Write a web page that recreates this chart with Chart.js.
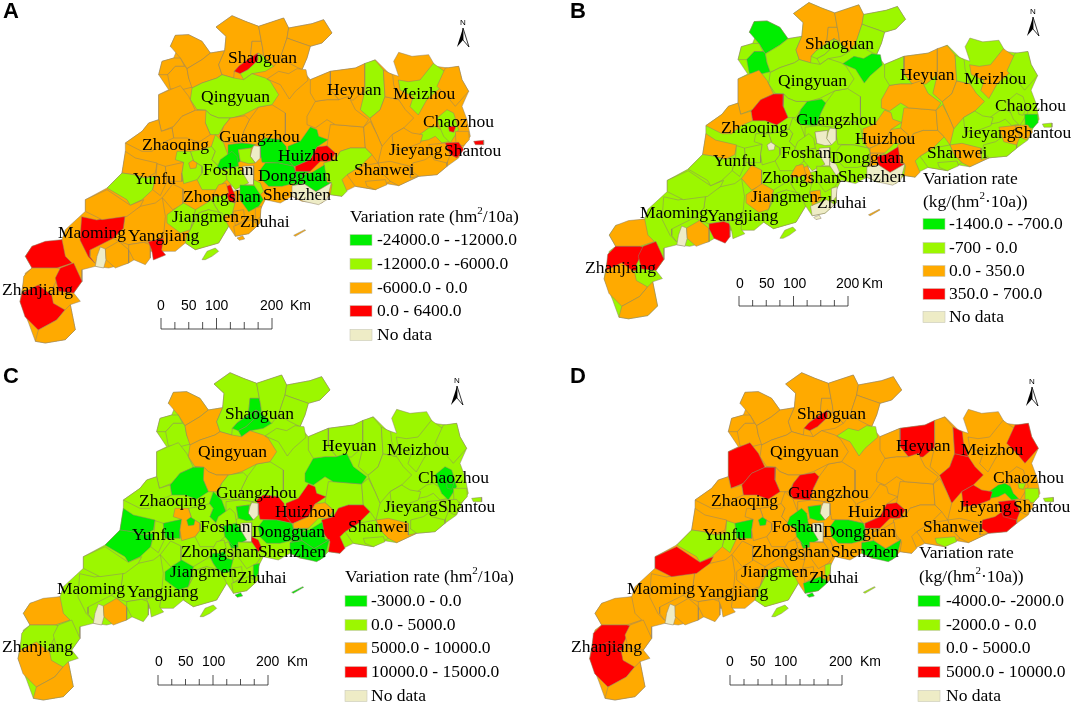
<!DOCTYPE html>
<html>
<head>
<meta charset="utf-8">
<title>Variation rate maps</title>
<script src="https://cdn.jsdelivr.net/npm/chart.js@4/dist/chart.umd.js"></script>
<style>
  html, body { margin: 0; padding: 0; background: #fff; }
  canvas { display: block; }
</style>
</head>
<body>
<canvas id="chart" width="1072" height="704"></canvas>
<script>
// class index: 0 lowest, 1 second, 2 third, 3 highest, 4 no data
const classColors = ['#00ee00', '#9cf700', '#ffaa00', '#ff0000', '#eeecc6'];

const provinceOutline = [520,97,560,95,600,115,625,150,668,143,672,100,642,72,690,38,730,55,770,70,845,45,860,75,930,62,965,50,990,90,960,120,925,130,915,165,900,200,925,230,985,205,1060,195,1120,170,1160,210,1190,220,1175,175,1190,148,1230,160,1280,155,1300,190,1340,195,1370,190,1380,230,1400,265,1380,310,1395,350,1405,400,1385,430,1370,465,1335,490,1305,515,1250,520,1190,548,1140,540,1120,560,1060,550,1030,565,1020,580,985,575,960,600,900,595,870,580,835,600,790,590,775,620,775,660,740,692,700,700,680,670,650,720,580,740,550,720,520,745,440,745,380,780,320,795,280,790,240,800,240,835,215,870,235,895,205,905,220,980,190,1010,130,1020,100,1015,80,960,54,896,60,860,70,810,90,795,70,760,90,730,180,710,190,680,250,625,250,590,315,555,360,510,370,450,370,420,420,385,440,360,470,350,470,275,500,260,470,215,480,175,515,165,525,140,505,130];

const countyShapes = [
  [600,440,630,430,640,445,630,470,650,490,645,495,670,500,675,530,640,560,600,560,585,530,600,510,600,490,575,475,565,445],
  [985,365,1000,365,1085,372,1090,435,1045,435,1015,445,1000,470,985,475,1000,450,975,428,978,410],
  [580,620,630,590,640,610,660,640,620,620,590,630,565,680],
  [875,490,880,505,925,505,900,517,906,542,870,548,880,540],
  [742,350,770,312,810,305,850,330,850,395,835,410,790,405,770,420,760,425,720,420,715,420,725,385],
  [369,636,415,610,460,600,481,584,490,640,484,706,439,716,425,718,380,725,350,715,334,706,364,676],
  [520,97,560,95,600,115,625,150,600,170,555,197,535,165,505,130],
  [470,215,480,175,515,165,535,165,548,190,520,190,497,215],
  [497,215,520,190,548,190,555,197,560,225,572,252,540,260,505,258],
  [555,197,600,170,625,150,668,143,650,185,660,215,645,225,600,240,570,255,560,225],
  [668,143,672,100,642,72,690,38,730,55,770,70,778,115,750,115,745,165,712,188,697,205,695,225,660,215,650,185],
  [750,115,778,115,782,135,785,160,768,150,745,165],
  [697,205,712,188,745,165,768,150,768,172,738,200,715,212],
  [738,200,768,172,768,150,785,160,815,190,790,205,750,212,725,230,715,212],
  [770,70,845,45,860,75,855,105,845,135,835,165,815,190,785,160,782,135,778,115],
  [860,75,930,62,965,50,990,90,960,120,925,130,868,110,855,105],
  [855,105,868,110,925,130,915,165,900,200,870,185,835,165,845,135],
  [795,228,830,205,860,212,885,197,912,200,918,232,880,265,862,288,835,245],
  [570,255,600,240,645,225,660,215,695,225,725,230,750,212,790,225,805,235,830,275,810,305,770,312,725,335,690,345,650,345,625,335,612,322,585,320,565,290],
  [585,320,612,322,625,335,650,345,685,345,665,370,650,395,625,395,610,360],
  [500,262,535,248,560,280,580,322,540,340,515,370,478,385,470,350,470,275],
  [580,322,612,322,610,360,625,395,590,418,555,405,515,405,510,375,515,370,540,340],
  [440,360,470,350,478,385,510,375,515,405,480,420,450,445,420,445,370,420,420,385],
  [370,445,400,465,465,480,460,510,430,525,395,515,360,510],
  [360,510,395,515,430,525,462,520,452,560,420,590,385,607,375,590,315,555],
  [465,482,490,490,495,535,475,578,452,560,462,520],
  [490,490,545,478,540,510,540,535,495,535],
  [525,445,565,445,575,475,600,490,600,510,585,530,545,542,540,510,545,478,520,470],
  [560,480,572,472,585,480,582,495,565,497],
  [640,395,665,420,678,455,650,490,630,470,640,445,628,430],
  [685,345,730,338,742,350,725,385,715,420,665,417,655,398,665,370],
  [678,425,720,420,760,425,748,435,709,440,715,475,690,490,678,455],
  [770,420,790,405,835,410,852,430,858,470,875,490,830,480,780,478,775,450],
  [858,430,895,415,925,372,945,380,950,400,978,410,945,432,925,470,880,490,875,490,858,470],
  [945,432,975,428,1000,450,985,475,955,475,925,505,880,505,880,490,925,470],
  [985,205,1060,195,1089,181,1089,261,1054,291,1010,290,985,260],
  [915,340,940,295,975,290,1010,290,1040,280,1060,320,1100,350,1085,372,1000,365,975,350,940,375,915,365],
  [1089,181,1119,171,1144,201,1149,281,1134,321,1104,346,1075,320,1089,261],
  [925,230,985,205,985,260,1010,290,975,290,940,295,925,270],
  [1134,321,1149,281,1190,290,1210,320,1235,345,1205,375,1170,395,1140,430,1125,395,1104,346],
  [1144,201,1172,215,1175,245,1190,290,1149,281],
  [1189,231,1219,236,1254,231,1294,181,1329,206,1319,251,1274,291,1249,336,1224,311,1234,281,1194,261],
  [1330,195,1370,190,1380,230,1400,265,1360,310,1335,280,1305,250],
  [1252,395,1280,375,1300,370,1335,390,1345,415,1320,420,1300,400,1280,410,1255,415],
  [1335,320,1355,330,1370,380,1345,420,1325,400,1310,365,1305,345],
  [1339,370,1362,370,1355,388,1342,385],
  [1360,385,1400,385,1402,410,1385,428,1362,425],
  [1170,395,1205,375,1230,390,1262,395,1255,420,1215,435,1175,440],
  [1232,480,1270,470,1295,452,1335,460,1335,490,1305,515,1250,520,1230,505],
  [1280,425,1330,420,1345,455,1335,480,1295,470],
  [1330,420,1370,418,1385,440,1365,465,1345,455],
  [1105,355,1125,395,1140,430,1128,480,1110,455,1090,435,1085,372],
  [1128,480,1165,475,1225,490,1225,525,1250,520,1190,548,1165,535,1140,510],
  [1075,490,1128,480,1140,510,1165,535,1120,560,1060,550,1035,515],
  [1090,535,1150,530,1155,545,1120,560,1095,550],
  [1015,445,1045,435,1090,435,1110,455,1075,490,1035,515,1020,530,1035,565,1020,580,985,575,990,545,970,520,965,480,1000,470],
  [900,517,931,508,967,486,975,537,988,539,942,566,906,542],
  [870,548,906,542,942,566,988,539,975,590,950,605,905,595,870,580],
  [775,500,790,480,830,480,875,490,880,505,880,540,840,550,800,550,780,530],
  [755,428,775,430,775,465,760,480,745,460,750,440],
  [709,440,748,435,745,460,760,480,740,482,715,475],
  [722,490,755,488,755,545,720,545],
  [684,516,722,516,720,560,690,566],
  [655,470,690,445,705,460,710,490,670,500,645,495],
  [670,498,710,490,740,540,700,560,675,530],
  [630,590,660,555,669,560,699,600,690,635,660,640,640,610],
  [669,552,685,545,699,575,699,600,680,595],
  [481,584,512,543,543,558,543,605,512,620],
  [631,579,650,545,672,540,680,570,660,580],
  [714,546,760,548,784,590,770,610,740,626,714,590],
  [755,530,775,540,785,565,775,575,755,545],
  [760,615,778,610,775,640,760,660],
  [695,670,745,650,770,665,740,692,700,700],
  [694,625,725,620,728,650,700,668],
  [495,635,530,610,545,600,580,620,565,680,535,690,495,660],
  [565,680,590,630,620,620,660,630,680,670,650,720,580,740,550,720,555,695],
  [295,732,310,738,312,770,305,795,280,790,285,760],
  [310,738,350,715,380,740,380,780,340,795,312,770],
  [380,725,425,718,445,725,445,765,430,785,395,770,380,740],
  [439,716,484,706,479,741,491,756,454,771,449,741],
  [239,641,284,651,369,636,364,676,334,706,294,726,264,741,264,761,279,781,259,761,234,711],
  [250,590,315,560,385,607,425,590,415,610,375,640,300,650,250,625],
  [90,730,130,715,180,710,190,760,210,780,165,795,90,795,70,760],
  [90,795,165,795,190,800,170,820,155,850,155,870,60,875,65,820],
  [175,795,215,780,240,835,215,870,170,865,160,825],
  [109,846,149,876,154,901,189,921,164,951,109,981,69,941,54,896,60,870],
  [109,981,164,951,189,921,205,905,220,980,190,1010,130,1020,100,1015],
  [600,770,615,745,640,735,650,745,630,760,610,770],
  [1415,415,1445,412,1445,425,1420,425],
  [875,697,908,680,911,682,880,700],
  [705,705,722,698,728,708,712,712]
];

const classesA = [1,2,1,0,2,2, 2,2,2,2,2,2,3,1,2,2, 2,2,1,1,2,2,2,2,1,2, 2,1,2,1,2,0,0,0,3,2, 2,1,2,2,2,1,2,1,1,3, 2,2,2,2,3,2,2,2,2,1, 0,4,0,4,1,4,4,0,1,1, 3,2,2,0,1,2,2,2,1,1, 4,2,2,3,3,2,3,2,3,3, 2,1,3,2,2];
const classesB = [1,2,1,2,1,1, 0,1,0,1,2,2,1,1,2,1, 1,0,1,1,2,3,2,2,1,1, 1,1,4,1,0,1,1,2,2,2, 2,2,1,2,1,2,1,1,1,1, 0,1,1,2,2,2,2,1,1,2, 3,4,1,4,4,4,4,1,1,1, 2,2,2,1,4,4,4,2,2,1, 4,2,3,1,1,1,2,3,3,2, 2,1,1,2,4];
const classesC = [1,1,1,0,1,1, 2,1,1,2,1,0,0,0,1,1, 1,1,2,2,1,0,1,0,0,1, 0,2,0,0,1,1,3,3,2,1, 0,1,1,1,1,1,1,1,0,0, 1,1,1,1,1,1,2,1,1,3, 0,0,0,4,0,4,0,1,0,0, 1,1,1,1,3,0,1,1,0,1, 4,2,1,1,1,1,2,1,1,2, 2,1,1,0,0];
const classesD = [2,2,2,2,2,2, 2,2,2,2,2,2,3,2,2,2, 2,1,2,2,3,3,2,2,1,1, 0,2,0,2,3,2,2,2,3,3, 2,2,2,3,3,2,3,0,2,1, 1,3,3,3,2,2,2,2,1,2, 2,0,0,4,0,4,0,0,0,2, 2,2,2,2,2,1,0,2,2,1, 4,2,2,2,2,3,2,3,2,3, 2,1,1,1,0];

const placeNames = ['Shaoguan','Qingyuan','Heyuan','Meizhou','Chaozhou','Zhaoqing','Guangzhou','Huizhou','Jieyang','Shantou','Foshan','Dongguan','Shanwei','Yunfu','Zhongshan','Shenzhen','Jiangmen','Zhuhai','Maoming','Yangjiang','Zhanjiang'];

const legendA = ['-24000.0 - -12000.0','-12000.0 - -6000.0','-6000.0 - 0.0','0.0 - 6400.0','No data'];
const legendB = ['-1400.0 - -700.0','-700 - 0.0','0.0 - 350.0','350.0 - 700.0','No data'];
const legendC = ['-3000.0 - 0.0','0.0 - 5000.0','5000.0 - 10000.0','10000.0 - 15000.0','No data'];
const legendD = ['-4000.0- -2000.0','-2000.0 - 0.0','0.0 - 5000.0','5000.0 - 10000.0','No data'];
const swatchOrder = [0, 1, 2, 3, 4];
const scaleLabels = ['0', '50', '100', '200', 'Km'];

// layout of each panel, in page pixels
const panels = [
  { id: 'A', classes: classesA, base: 2, legend: legendA, letter: [3, 12],
    xr: [-6, 3210], yr: [-9, 2103],
    names: [[228,58],[201,97],[327,90],[393,94],[423,122],[142,145],[219,137],[278,156],[389,150],[444,151],[203,170],[258,176],[354,170],[133,179],[183,197],[263,195],[172,217],[240,222],[58,233],[128,236],[2,290]],
    title: { x: 350, ys: [217], lines: [['Variation rate (hm', '2', '/10a)']] },
    swatchX: 350, labelX: 377, rows: [240, 264, 288, 311, 335],
    bar: { x0: 161, x1: 272, top: 318, bottom: 329, textY: 306, textX: [157, 181, 205, 260, 290] },
    north: { x: 463, y: 28 } },
  { id: 'B', classes: classesB, base: 1, legend: legendB, letter: [570, 12],
    xr: [-1822, 1507], yr: [30, 2216],
    names: [[805,44],[778,81],[900,75],[964,79],[995,106],[721,128],[796,120],[855,139],[962,133],[1014,133],[781,153],[831,158],[927,153],[713,161],[762,178],[838,177],[751,197],[817,203],[640,213],[707,216],[585,268]],
    title: { x: 923, ys: [179, 202], lines: [['Variation rate'], ['(kg/(hm', '2', '\u00b710a))']] },
    swatchX: 923, labelX: 949, rows: [224, 248, 271, 294, 317],
    bar: { x0: 739, x1: 848, top: 296, bottom: 306, textY: 284, textX: [736, 759, 783, 836, 862] },
    north: { x: 1033, y: 17 } },
  { id: 'C', classes: classesC, base: 1, legend: legendC, letter: [3, 377],
    xr: [0, 3216], yr: [-1080, 1032],
    names: [[225,414],[198,452],[322,446],[387,450],[418,478],[139,501],[216,493],[275,512],[384,507],[438,507],[200,527],[252,532],[348,527],[132,535],[181,552],[258,552],[170,572],[237,578],[57,589],[127,592],[2,647]],
    title: { x: 345, ys: [577], lines: [['Variation rate (hm', '2', '/10a)']] },
    swatchX: 345, labelX: 371, rows: [601, 625, 648, 672, 696],
    bar: { x0: 158, x1: 268, top: 675, bottom: 685, textY: 662, textX: [155, 178, 202, 256, 287] },
    north: { x: 457, y: 386 } },
  { id: 'D', classes: classesD, base: 2, legend: legendD, letter: [570, 377],
    xr: [-1715, 1501], yr: [-1080, 1032],
    names: [[797,414],[770,452],[896,446],[961,450],[993,478],[711,501],[788,493],[848,512],[958,507],[1013,507],[772,527],[823,532],[923,527],[703,535],[752,552],[831,552],[741,572],[809,578],[627,589],[697,592],[571,647]],
    title: { x: 919, ys: [553, 577], lines: [['Variation rate'], ['(kg/(hm', '2', '\u00b710a))']] },
    swatchX: 918, labelX: 946, rows: [601, 625, 648, 672, 696],
    bar: { x0: 730, x1: 842, top: 675, bottom: 685, textY: 662, textX: [726, 750, 774, 829, 860] },
    north: { x: 1032, y: 387 } }
];

function toPoints(flat) {
  const pts = [];
  for (let i = 0; i < flat.length; i += 2) pts.push({ x: flat[i], y: flat[i + 1] });
  pts.push({ x: flat[0], y: flat[1] });
  return pts;
}

function shapeDataset(flat, color, p) {
  return {
    data: toPoints(flat),
    showLine: true,
    fill: 'shape',
    backgroundColor: color,
    borderColor: '#8f826a',
    borderWidth: 0.5,
    tension: 0,
    pointRadius: 0,
    xAxisID: 'x' + p.id,
    yAxisID: 'y' + p.id,
    clip: false
  };
}

const datasets = [];
const scales = {};
panels.forEach(p => {
  scales['x' + p.id] = { type: 'linear', display: false, min: p.xr[0], max: p.xr[1] };
  scales['y' + p.id] = { type: 'linear', display: false, reverse: true, min: p.yr[0], max: p.yr[1] };
  datasets.push(shapeDataset(provinceOutline, classColors[p.base], p));
  countyShapes.forEach((shape, i) => {
    datasets.push(shapeDataset(shape, classColors[p.classes[i]], p));
  });
});
// chart.js paints the first dataset last
datasets.reverse();

const serif = '"Liberation Serif", "Times New Roman", serif';
const sans = '"Liberation Sans", Arial, sans-serif';

const mapText = {
  id: 'mapText',
  afterDraw(chart) {
    const ctx = chart.ctx;
    ctx.save();
    ctx.textBaseline = 'middle';
    panels.forEach(p => {
      ctx.fillStyle = '#000';
      ctx.font = 'bold 22px ' + sans;
      ctx.fillText(p.id, p.letter[0], p.letter[1]);

      ctx.font = '17.5px ' + serif;
      placeNames.forEach((name, i) => ctx.fillText(name, p.names[i][0], p.names[i][1]));

      // legend title, with the superscript
      p.title.lines.forEach((parts, li) => {
        let x = p.title.x;
        const y = p.title.ys[li];
        parts.forEach((part, k) => {
          const sup = k === 1;
          ctx.font = (sup ? '11px ' : '17.5px ') + serif;
          ctx.fillText(part, x, sup ? y - 6 : y);
          x += ctx.measureText(part).width;
        });
      });

      ctx.font = '17.5px ' + serif;
      swatchOrder.forEach((c, i) => {
        const y = p.rows[i];
        ctx.fillStyle = classColors[c];
        ctx.fillRect(p.swatchX, y - 5.5, 22, 11);
        ctx.strokeStyle = '#c9c9b8';
        ctx.lineWidth = 0.6;
        ctx.strokeRect(p.swatchX, y - 5.5, 22, 11);
        ctx.fillStyle = '#000';
        ctx.fillText(p.legend[i], p.labelX, y);
      });

      // scale bar
      const b = p.bar;
      ctx.strokeStyle = '#222';
      ctx.lineWidth = 0.8;
      ctx.beginPath();
      ctx.moveTo(b.x0, b.bottom);
      ctx.lineTo(b.x1, b.bottom);
      for (let t = 0; t <= 8; t++) {
        const tx = b.x0 + (b.x1 - b.x0) * t / 8;
        ctx.moveTo(tx, b.bottom);
        ctx.lineTo(tx, t % 4 === 0 ? b.top : b.top + 4);
      }
      ctx.stroke();
      ctx.font = '14px ' + sans;
      scaleLabels.forEach((s, i) => ctx.fillText(s, b.textX[i], b.textY));

      // north arrow
      const n = p.north;
      ctx.font = '8px ' + sans;
      ctx.textAlign = 'center';
      ctx.fillText('N', n.x, n.y - 5);
      ctx.textAlign = 'left';
      ctx.fillStyle = '#000';
      ctx.beginPath();
      ctx.moveTo(n.x, n.y);
      ctx.lineTo(n.x - 6, n.y + 19);
      ctx.lineTo(n.x, n.y + 12);
      ctx.closePath();
      ctx.fill();
      ctx.beginPath();
      ctx.moveTo(n.x, n.y);
      ctx.lineTo(n.x + 6, n.y + 19);
      ctx.lineTo(n.x, n.y + 12);
      ctx.closePath();
      ctx.lineWidth = 0.8;
      ctx.strokeStyle = '#000';
      ctx.stroke();
    });
    ctx.restore();
  }
};

new Chart('chart', {
  type: 'scatter',
  data: { datasets: datasets },
  options: {
    responsive: false,
    animation: false,
    events: [],
    layout: { padding: 0 },
    scales: scales,
    plugins: { legend: { display: false }, tooltip: { enabled: false } }
  },
  plugins: [mapText]
});
</script>
</body>
</html>
